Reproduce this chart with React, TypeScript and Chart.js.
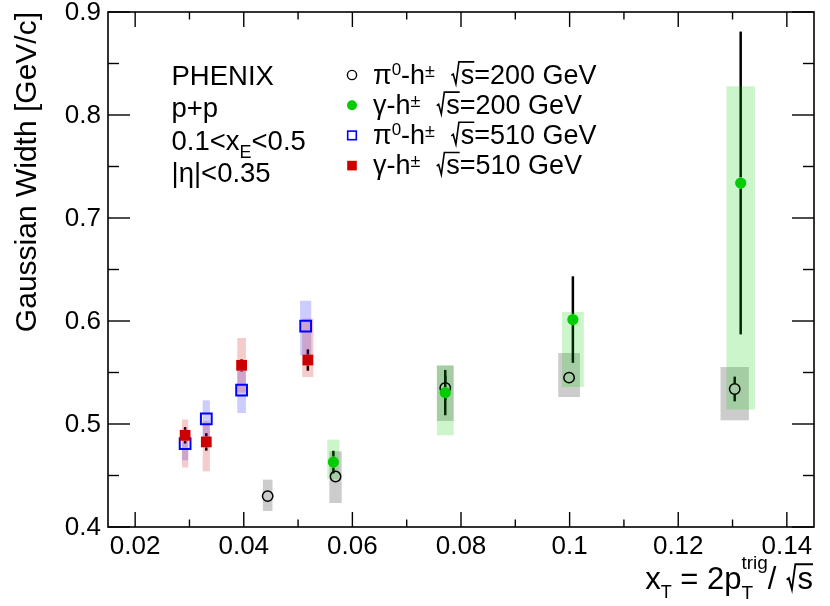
import React, { useEffect, useRef } from "react";
import { Chart, registerables } from "chart.js";

Chart.register(...registerables);

// pi0-h+-, sqrt(s) = 200 GeV (open circles, grey sys boxes)
const pi200X = [0.0444, 0.0569, 0.0771, 0.0999, 0.1304];
const pi200Y = [0.43, 0.449, 0.535, 0.545, 0.534];
const pi200Stat = [0.003, 0.004, 0.012, 0.004, 0.012];
const pi200SysLo = [0.4155, 0.4233, 0.5029, 0.5262, 0.5036];
const pi200SysHi = [0.446, 0.4735, 0.5567, 0.5689, 0.5553];

// gamma-h+-, sqrt(s) = 200 GeV (green dots)
const gam200X = [0.0565, 0.0771, 0.1006, 0.1315];
const gam200Y = [0.463, 0.5305, 0.6014, 0.734];
const gam200Stat = [0.011, 0.022, 0.042, 0.147];
const gam200SysLo = [0.4466, 0.489, 0.5359, 0.514];
const gam200SysHi = [0.4848, 0.557, 0.6087, 0.8279];

// pi0-h+-, sqrt(s) = 510 GeV (open blue squares)
const pi510X = [0.0292, 0.0331, 0.0396, 0.0514];
const pi510Y = [0.481, 0.505, 0.533, 0.595];
const pi510Stat = [0.004, 0.004, 0.004, 0.004];
const pi510SysLo = [0.4648, 0.4874, 0.5107, 0.5667];
const pi510SysHi = [0.4946, 0.523, 0.5535, 0.6197];

// gamma-h+-, sqrt(s) = 510 GeV (red squares)
const gam510X = [0.0292, 0.0331, 0.0396, 0.0518];
const gam510Y = [0.489, 0.4826, 0.557, 0.5621];
const gam510Stat = [0.008, 0.0085, 0.006, 0.0104];
const gam510SysLo = [0.4577, 0.454, 0.5305, 0.5456];
const gam510SysHi = [0.5043, 0.503, 0.5835, 0.6023];

const xMajor = [0.02, 0.04, 0.06, 0.08, 0.1, 0.12, 0.14];
const xMajorLabels = ["0.02", "0.04", "0.06", "0.08", "0.1", "0.12", "0.14"];
const xMinor = [0.03, 0.05, 0.07, 0.09, 0.11, 0.13];
const yMajor = [0.4, 0.5, 0.6, 0.7, 0.8, 0.9];
const yMajorLabels = ["0.4", "0.5", "0.6", "0.7", "0.8", "0.9"];
const yMinor = [0.45, 0.55, 0.65, 0.75, 0.85];

const FONT = '"Liberation Sans", Arial, Helvetica, sans-serif';

type Seg = {
  t: string;
  s: number;
  dy?: number;
  sqrt?: boolean;
  sub?: string;
  sup?: string;
  subDy?: number;
  supDy?: number;
};

// gap = marker half size in px; error bars are drawn outside the marker only
const series = [
  { x: pi200X, y: pi200Y, stat: pi200Stat, lo: pi200SysLo, hi: pi200SysHi, band: "rgba(0,0,0,0.2)", gap: 5.5 },
  { x: gam200X, y: gam200Y, stat: gam200Stat, lo: gam200SysLo, hi: gam200SysHi, band: "rgba(0,204,0,0.2)", gap: 5.5 },
  { x: pi510X, y: pi510Y, stat: pi510Stat, lo: pi510SysLo, hi: pi510SysHi, band: "rgba(0,0,255,0.2)", gap: 5.5 },
  { x: gam510X, y: gam510Y, stat: gam510Stat, lo: gam510SysLo, hi: gam510SysHi, band: "rgba(204,0,0,0.2)", gap: 5.5 },
];

function segWidth(ctx: CanvasRenderingContext2D, g: Seg) {
  ctx.font = `${g.s}px ${FONT}`;
  if (g.sub !== undefined) {
    return Math.max(ctx.measureText(g.sub).width, ctx.measureText(g.sup || "").width);
  }
  const w = ctx.measureText(g.t).width;
  return g.sqrt ? w + g.s * 0.4 : w;
}

function drawRich(ctx: CanvasRenderingContext2D, segs: Seg[], x: number, y: number, align: "left" | "right") {
  const total = segs.reduce((a, g) => a + segWidth(ctx, g), 0);
  let cx = align === "right" ? x - total : x;
  ctx.textAlign = "left";
  ctx.textBaseline = "alphabetic";
  for (const g of segs) {
    const w = segWidth(ctx, g);
    ctx.font = `${g.s}px ${FONT}`;
    if (g.sub !== undefined) {
      ctx.fillText(g.sub, cx, y + (g.subDy || 0));
      ctx.fillText(g.sup || "", cx, y + (g.supDy || 0));
    } else if (g.sqrt) {
      const S = g.s;
      const tw = w - S * 0.4;
      ctx.beginPath();
      ctx.moveTo(cx + 0.05 * S, y - 0.3 * S);
      ctx.lineTo(cx + 0.12 * S, y - 0.35 * S);
      ctx.lineTo(cx + 0.22 * S, y + 0.01 * S);
      ctx.lineTo(cx + 0.33 * S, y - 0.8 * S);
      ctx.lineTo(cx + 0.4 * S + tw, y - 0.8 * S);
      ctx.lineWidth = Math.max(1.2, S * 0.06);
      ctx.strokeStyle = "#000";
      ctx.stroke();
      ctx.fillText(g.t, cx + 0.4 * S, y);
    } else {
      ctx.fillText(g.t, cx, y + (g.dy || 0));
    }
    cx += w;
  }
}

function legendMarker(ctx: CanvasRenderingContext2D, kind: number, x: number, y: number) {
  ctx.save();
  if (kind === 0) {
    ctx.beginPath();
    ctx.arc(x, y, 4.6, 0, Math.PI * 2);
    ctx.lineWidth = 1.4;
    ctx.strokeStyle = "#000";
    ctx.stroke();
  } else if (kind === 1) {
    ctx.beginPath();
    ctx.arc(x, y, 5, 0, Math.PI * 2);
    ctx.fillStyle = "#00cc00";
    ctx.fill();
  } else if (kind === 2) {
    ctx.lineWidth = 1.6;
    ctx.strokeStyle = "#0000ff";
    ctx.strokeRect(x - 4.3, y - 4.3, 8.6, 8.6);
  } else {
    ctx.fillStyle = "#cc0000";
    ctx.fillRect(x - 4.8, y - 4.8, 9.6, 9.6);
  }
  ctx.restore();
}

const physPlugin = {
  id: "phys",
  beforeDatasetsDraw(chart: any) {
    const { ctx, chartArea: a } = chart;
    const xs = chart.scales.x;
    const ys = chart.scales.y;
    ctx.save();
    ctx.beginPath();
    ctx.rect(a.left, a.top, a.right - a.left, a.bottom - a.top);
    ctx.clip();
    // statistical error bars (outside the marker)
    ctx.strokeStyle = "#000";
    ctx.lineWidth = 2.5;
    for (const s of series) {
      s.x.forEach((xv, i) => {
        const px = xs.getPixelForValue(xv);
        const pc = ys.getPixelForValue(s.y[i]);
        const pTop = ys.getPixelForValue(s.y[i] + s.stat[i]);
        const pBot = ys.getPixelForValue(s.y[i] - s.stat[i]);
        if (pc - pTop > s.gap) {
          ctx.beginPath();
          ctx.moveTo(px, pc - s.gap);
          ctx.lineTo(px, pTop);
          ctx.stroke();
        }
        if (pBot - pc > s.gap) {
          ctx.beginPath();
          ctx.moveTo(px, pc + s.gap);
          ctx.lineTo(px, pBot);
          ctx.stroke();
        }
      });
    }
    // systematic boxes
    for (const s of series) {
      ctx.fillStyle = s.band;
      s.x.forEach((xv, i) => {
        const l = xs.getPixelForValue(xv * 0.98);
        const r = xs.getPixelForValue(xv * 1.02);
        const t = ys.getPixelForValue(s.hi[i]);
        const b = ys.getPixelForValue(s.lo[i]);
        ctx.fillRect(l, t, r - l, b - t);
      });
    }
    ctx.restore();
  },
  afterDraw(chart: any) {
    const { ctx, chartArea: a } = chart;
    const xs = chart.scales.x;
    const ys = chart.scales.y;
    ctx.save();
    ctx.fillStyle = "#000";
    ctx.strokeStyle = "#000";

    // frame
    ctx.lineWidth = 1.6;
    ctx.strokeRect(a.left, a.top, a.right - a.left, a.bottom - a.top);

    // ticks
    ctx.lineWidth = 1.4;
    const tick = (x1: number, y1: number, x2: number, y2: number) => {
      ctx.beginPath();
      ctx.moveTo(x1, y1);
      ctx.lineTo(x2, y2);
      ctx.stroke();
    };
    xMajor.forEach((v) => {
      const px = xs.getPixelForValue(v);
      tick(px, a.bottom, px, a.bottom - 15);
      tick(px, a.top, px, a.top + 15);
    });
    xMinor.forEach((v) => {
      const px = xs.getPixelForValue(v);
      tick(px, a.bottom, px, a.bottom - 7.5);
      tick(px, a.top, px, a.top + 7.5);
    });
    yMajor.forEach((v) => {
      const py = ys.getPixelForValue(v);
      tick(a.left, py, a.left + 22, py);
      tick(a.right, py, a.right - 22, py);
    });
    yMinor.forEach((v) => {
      const py = ys.getPixelForValue(v);
      tick(a.left, py, a.left + 11, py);
      tick(a.right, py, a.right - 11, py);
    });

    // tick labels
    ctx.font = `26px ${FONT}`;
    ctx.textAlign = "center";
    ctx.textBaseline = "alphabetic";
    xMajor.forEach((v, i) => {
      ctx.fillText(xMajorLabels[i], xs.getPixelForValue(v), a.bottom + 26.5);
    });
    ctx.textAlign = "right";
    ctx.textBaseline = "middle";
    yMajor.forEach((v, i) => {
      ctx.fillText(yMajorLabels[i], a.left - 7, ys.getPixelForValue(v) + 1);
    });

    // y title
    ctx.save();
    ctx.translate(35.5, a.top);
    ctx.rotate(-Math.PI / 2);
    ctx.font = `30px ${FONT}`;
    ctx.textAlign = "right";
    ctx.textBaseline = "alphabetic";
    ctx.fillText("Gaussian Width [GeV/c]", 0, 0);
    ctx.restore();

    // x title
    drawRich(
      ctx,
      [
        { t: "x", s: 31 },
        { t: "T", s: 18, dy: 9 },
        { t: " = 2p", s: 31 },
        { t: "", s: 19, sub: "T", sup: "trig", subDy: 10, supDy: -20 },
        { t: "/ ", s: 31 },
        { t: "s", s: 31, sqrt: true },
      ],
      a.right - 1,
      589,
      "right"
    );

    // PHENIX block
    const lx = 171.5;
    drawRich(ctx, [{ t: "PHENIX", s: 27.5 }], lx, 85, "left");
    drawRich(ctx, [{ t: "p+p", s: 27.5 }], lx, 117, "left");
    drawRich(
      ctx,
      [
        { t: "0.1<x", s: 27.5 },
        { t: "E", s: 18, dy: 8 },
        { t: "<0.5", s: 27.5 },
      ],
      lx,
      149.5,
      "left"
    );
    drawRich(ctx, [{ t: "|\u03b7|<0.35", s: 27.5 }], lx, 181.5, "left");

    // legend
    const entries: { kind: number; head: string; energy: string }[] = [
      { kind: 0, head: "pi", energy: "=200 GeV" },
      { kind: 1, head: "gamma", energy: "=200 GeV" },
      { kind: 2, head: "pi", energy: "=510 GeV" },
      { kind: 3, head: "gamma", energy: "=510 GeV" },
    ];
    entries.forEach((e, i) => {
      const base = 83.5 + 30.2 * i;
      legendMarker(ctx, e.kind, 352, base - 8.5);
      const headSegs: Seg[] =
        e.head === "pi"
          ? [
              { t: "\u03c0", s: 27 },
              { t: "0", s: 17, dy: -9 },
            ]
          : [{ t: "\u03b3", s: 27 }];
      drawRich(
        ctx,
        [
          ...headSegs,
          { t: "-h", s: 27 },
          { t: "\u00b1", s: 18, dy: -7 },
          { t: "  ", s: 27 },
          { t: "s", s: 27, sqrt: true },
          { t: e.energy, s: 27 },
        ],
        373,
        base,
        "left"
      );
    });

    ctx.restore();
  },
};

export default function App() {
  const canvasRef = useRef<HTMLCanvasElement | null>(null);

  useEffect(() => {
    let chart: Chart | null = null;
    if (canvasRef.current) {
      const pts = (xv: number[], yv: number[]) => xv.map((x, i) => ({ x, y: yv[i] }));
      // @ts-ignore
      chart = new Chart(canvasRef.current, {
        type: "scatter",
        data: {
          datasets: [
            {
              label: "gamma-h 510",
              data: pts(gam510X, gam510Y),
              pointStyle: "rect",
              pointRadius: 7.6,
              backgroundColor: "#cc0000",
              borderColor: "#cc0000",
              borderWidth: 0,
            },
            {
              label: "pi0-h 510",
              data: pts(pi510X, pi510Y),
              pointStyle: "rect",
              pointRadius: 7.6,
              backgroundColor: "rgba(0,0,0,0)",
              borderColor: "#0000ff",
              borderWidth: 2,
            },
            {
              label: "gamma-h 200",
              data: pts(gam200X, gam200Y),
              pointStyle: "circle",
              pointRadius: 5.6,
              backgroundColor: "#00cc00",
              borderColor: "#00cc00",
              borderWidth: 0,
            },
            {
              label: "pi0-h 200",
              data: pts(pi200X, pi200Y),
              pointStyle: "circle",
              pointRadius: 5.2,
              backgroundColor: "rgba(0,0,0,0)",
              borderColor: "#000",
              borderWidth: 1.5,
            },
          ],
        },
        options: {
          animation: false,
          responsive: true,
          maintainAspectRatio: false,
          events: [],
          layout: { padding: { left: 108, right: 16, top: 12, bottom: 79 } },
          plugins: {
            legend: { display: false },
            tooltip: { enabled: false },
          },
          scales: {
            x: { type: "linear", min: 0.015, max: 0.145, display: false },
            y: { type: "linear", min: 0.4, max: 0.9, display: false },
          },
        },
        plugins: [physPlugin],
      });
    }
    return () => {
      if (chart) chart.destroy();
    };
  }, []);

  return (
    <div style={{ position: "absolute", left: 0, top: 0, width: 830, height: 606, background: "#fff" }}>
      <canvas ref={canvasRef} />
    </div>
  );
}
